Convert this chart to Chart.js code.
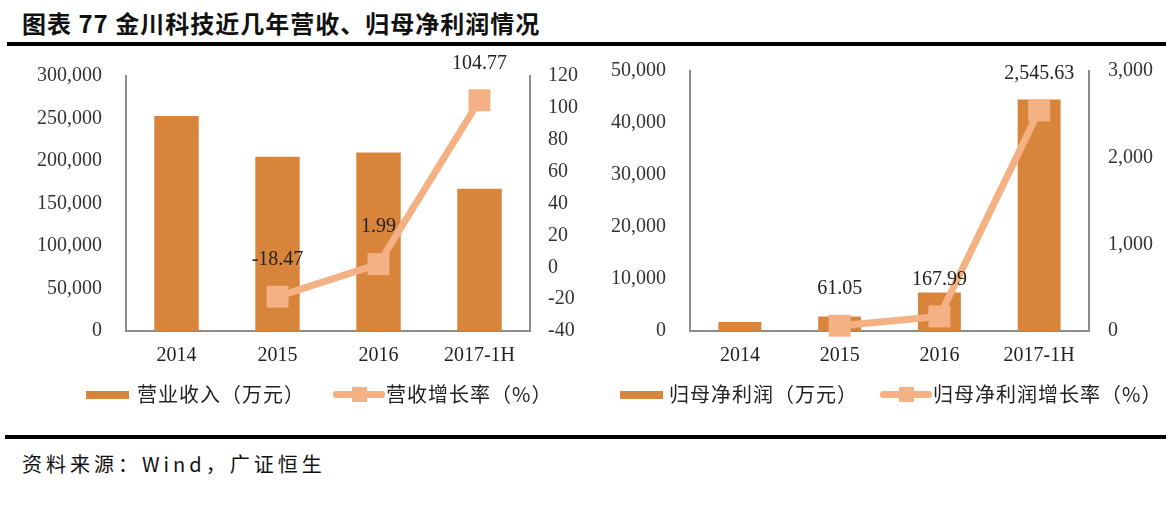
<!DOCTYPE html>
<html>
<head>
<meta charset="utf-8">
<script src="https://cdn.jsdelivr.net/npm/chart.js@4/dist/chart.umd.min.js"></script>
<style>
  body { margin:0; background:#fff; width:1173px; height:511px; position:relative; overflow:hidden;
         font-family:"Noto Sans CJK SC", sans-serif; }
  #title { position:absolute; left:22px; top:5px; font-size:24px; letter-spacing:1px; font-weight:bold; color:#111; white-space:nowrap; }
  #line1 { position:absolute; left:7px; width:1159px; top:42px; height:4px; background:#000; }
  #line2 { position:absolute; left:5px; width:1161px; top:435px; height:4px; background:#000; }
  #src { position:absolute; left:22px; top:449px; font-size:20px; letter-spacing:4px; color:#111; white-space:nowrap; }
  .cv { position:absolute; }
  .lg { position:absolute; top:379px; height:26px; font-size:20px; letter-spacing:1px; color:#222; white-space:nowrap; }
  .box { position:absolute; top:12px; height:8px; background:#D9843B; }
  .ln { position:absolute; top:12px; height:7px; background:#F4B183; border-radius:3px; }
  .mk { position:absolute; top:8px; width:15px; height:15px; background:#F4B183; }
  .tx { position:absolute; top:0; }
</style>
</head>
<body>
<div id="title">图表 77 金川科技近几年营收、归母净利润情况</div>
<div id="line1"></div>

<canvas id="c1" class="cv" style="left:0px;top:40px" width="590" height="340"></canvas>
<canvas id="c2" class="cv" style="left:590px;top:35px" width="583" height="345"></canvas>

<div class="lg" style="left:0;width:590px">
  <div class="box" style="left:86px;width:43px"></div>
  <div class="tx" style="left:137px">营业收入（万元）</div>
  <div class="ln" style="left:333px;width:52px"></div>
  <div class="mk" style="left:352px"></div>
  <div class="tx" style="left:386px">营收增长率（%）</div>
</div>
<div class="lg" style="left:0;width:1173px">
  <div class="box" style="left:620px;width:43px"></div>
  <div class="tx" style="left:669px">归母净利润（万元）</div>
  <div class="ln" style="left:880px;width:52px"></div>
  <div class="mk" style="left:899px"></div>
  <div class="tx" style="left:933px">归母净利润增长率（%）</div>
</div>

<div id="line2"></div>
<div id="src">资料来源：Wind，广证恒生</div>

<script>
const years = ['2014', '2015', '2016', '2017-1H']

const revenue = [253000, 205000, 210000, 167500]
const revenueGrowth = [null, -18.47, 1.99, 104.77]

const netProfit = [1720, 2770, 7420, 44500]
const profitGrowth = [null, 61.05, 167.99, 2545.63]

const barColor = '#D9843B'
const lineColor = '#F4B183'
const axisColor = '#8c8c8c'
const numFont = { family: '"Liberation Serif", "DejaVu Serif", serif', size: 20 }

Chart.defaults.font.family = numFont.family
Chart.defaults.color = '#333'

function fmt(v, dec) {
  return v.toLocaleString('en-US', { minimumFractionDigits: dec, maximumFractionDigits: dec })
}

// labels above the line points
const pointLabels = {
  id: 'pointLabels',
  afterDatasetsDraw(chart) {
    const ctx = chart.ctx
    const meta = chart.getDatasetMeta(1)
    const vals = chart.data.datasets[1].data
    ctx.save()
    ctx.font = numFont.size + 'px ' + numFont.family
    ctx.fillStyle = '#222'
    ctx.textAlign = 'center'
    ctx.textBaseline = 'middle'
    meta.data.forEach((p, i) => {
      if (vals[i] == null) return
      ctx.fillText(fmt(vals[i], 2), p.x, p.y - 37)
    })
    ctx.restore()
  }
}

function makeChart(id, bars, growth, opt) {
  return new Chart(document.getElementById(id), {
    type: 'bar',
    data: {
      labels: years,
      datasets: [
        { type: 'bar', data: bars, backgroundColor: barColor, yAxisID: 'y',
          categoryPercentage: 1, barPercentage: opt.barPct, order: 2 },
        { type: 'line', data: growth, yAxisID: 'y1', borderColor: lineColor, backgroundColor: lineColor,
          borderWidth: 7, pointStyle: 'rect', pointRadius: 15.5, pointBorderWidth: 0,
          pointBackgroundColor: lineColor, spanGaps: false, clip: false, order: 1 }
      ]
    },
    options: {
      responsive: false,
      devicePixelRatio: 1,
      animation: false,
      layout: { autoPadding: false, padding: { top: 20, left: 0, right: 0, bottom: 0 } },
      plugins: { legend: { display: false }, tooltip: { enabled: false } },
      scales: {
        x: {
          grid: { display: false, drawTicks: false },
          border: { color: axisColor, width: 2 },
          ticks: { font: numFont, color: '#222', padding: 13, maxRotation: 0 },
          afterFit: s => { s.height = 49 }
        },
        y: {
          position: 'left',
          min: opt.yMin, max: opt.yMax,
          grid: { display: false, drawTicks: false },
          border: { color: axisColor, width: 2 },
          ticks: { font: numFont, color: '#333', padding: 24, stepSize: opt.yStep,
                   callback: v => fmt(v, 0) },
          afterFit: s => { s.width = opt.leftW }
        },
        y1: {
          position: 'right',
          min: opt.y1Min, max: opt.y1Max,
          grid: { display: false, drawTicks: false },
          border: { color: axisColor, width: 2 },
          ticks: { font: numFont, color: '#333', padding: opt.rightPad, stepSize: opt.y1Step,
                   callback: v => fmt(v, 0) },
          afterFit: s => { s.width = opt.rightW }
        }
      }
    },
    plugins: [pointLabels]
  })
}

makeChart('c1', revenue, revenueGrowth, {
  leftW: 126, rightW: 60, rightPad: 18, barPct: 0.44,
  yMin: 0, yMax: 300000, yStep: 50000, y1Min: -40, y1Max: 120, y1Step: 20
})

makeChart('c2', netProfit, profitGrowth, {
  leftW: 100, rightW: 84, rightPad: 19, barPct: 0.43,
  yMin: 0, yMax: 50000, yStep: 10000, y1Min: 0, y1Max: 3000, y1Step: 1000
})
</script>
</body>
</html>
